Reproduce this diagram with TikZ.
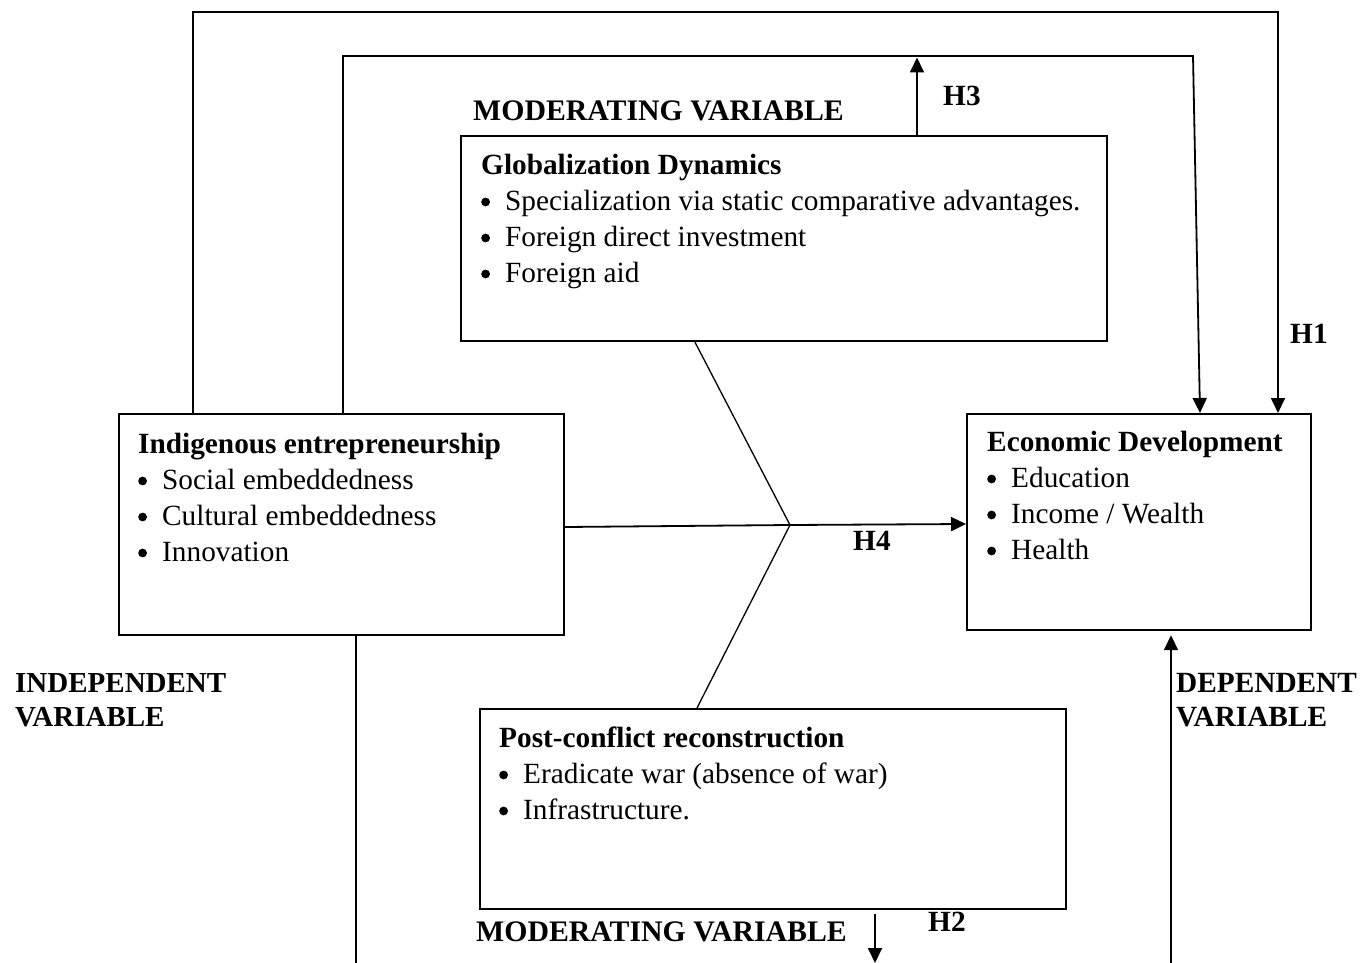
\documentclass[tikz,border=0pt]{standalone}
\usepackage{fontspec}
\setmainfont{Liberation Serif}
\usetikzlibrary{arrows.meta}
% round list marker followed by the item text
\newcommand\bulletitem[1]{\makebox[24pt][l]{\raisebox{3.6pt}{\tikz\fill (0,0) circle (4.4pt);}}#1}
\begin{document}
\begin{tikzpicture}[x=1pt,y=-1pt,
  box/.style={draw, line width=2.2pt, inner sep=0pt, anchor=north west},
  txt/.style={anchor=base west, inner sep=0pt, font=\fontsize{29.3}{36}\selectfont},
  hd/.style={anchor=base west, inner sep=0pt, font=\fontsize{29.3}{36}\selectfont\bfseries},
  wide/.style={hd, font=\fontsize{29.8}{36}\selectfont\bfseries},
  link/.style={line width=1.8pt},
  slim/.style={line width=1.3pt},
  tip/.style={-{Triangle[length=15pt,width=14pt]}},
]
\useasboundingbox (0,0) rectangle (1370,963);

% boxes
\node[box, minimum width=646pt, minimum height=205pt] (glob) at (460,135) {};
\node[box, minimum width=445pt, minimum height=221pt] (ind) at (118,413) {};
\node[box, minimum width=344pt, minimum height=216pt] (eco) at (966,413) {};
\node[box, minimum width=586pt, minimum height=200pt] (post) at (479,708) {};

% globalization dynamics
\node[hd]  (globT)  at (481,174) {Globalization Dynamics};
\node[txt] (globA)  at (481,210) {\bulletitem{Specialization via static comparative advantages.}};
\node[txt] (globB)  at (481,246) {\bulletitem{Foreign direct investment}};
\node[txt] (globC)  at (481,282) {\bulletitem{Foreign aid}};

% indigenous entrepreneurship
\node[hd]  (indT) at (138,453) {Indigenous entrepreneurship};
\node[txt] (indA) at (138,489) {\bulletitem{Social embeddedness}};
\node[txt] (indB) at (138,525) {\bulletitem{Cultural embeddedness}};
\node[txt] (indC) at (138,561) {\bulletitem{Innovation}};

% economic development
\node[hd]  (ecoT) at (987,451) {Economic Development};
\node[txt] (ecoA) at (987,487) {\bulletitem{Education}};
\node[txt] (ecoB) at (987,523) {\bulletitem{Income / Wealth}};
\node[txt] (ecoC) at (987,559) {\bulletitem{Health}};

% post-conflict reconstruction
\node[hd]  (postT) at (499,747) {Post-conflict reconstruction};
\node[txt] (postA) at (499,783) {\bulletitem{Eradicate war (absence of war)}};
\node[txt] (postB) at (499,819) {\bulletitem{Infrastructure.}};

% labels
\node[wide] (modTop) at (473,121) {MODERATING VARIABLE};
\node[wide] (modBot) at (476,941) {MODERATING VARIABLE};
\node[hd, font=\fontsize{29}{36}\selectfont\bfseries] (indepA) at (15,692) {INDEPENDENT};
\node[hd, font=\fontsize{29}{36}\selectfont\bfseries] (indepB) at (15,726) {VARIABLE};
\node[hd] (depA) at (1176,692) {DEPENDENT};
\node[hd] (depB) at (1176,726) {VARIABLE};
\node[hd] (hOne) at (1290,343) {H1};
\node[hd] (hTwo) at (928,931) {H2};
\node[hd] (hThree) at (943,106) {H3};
\node[hd] (hFour) at (853,550) {H4};

% H1: outer loop
\coordinate (o1) at (193,12);
\coordinate (o2) at (1278,12);
\draw[link,tip] (o1 |- ind.north) -- (o1) -- (o2) -- (o2 |- eco.north);

% inner loop
\coordinate (i1) at (343,56);
\coordinate (i2) at (1193,56);
\coordinate (i3) at (1200,0);
\draw[link,tip] (i1 |- ind.north) -- (i1) -- (i2) -- (i3 |- eco.north);

% H3 arrow from globalization box
\coordinate (g3) at (917,0);
\draw[link,tip,shorten >=1.5pt] (g3 |- glob.north) -- (g3 |- i1);

% H4: direct path with moderating branches
\coordinate (hub) at (790,525);
\coordinate (hl) at (0,527);
\coordinate (hr) at (0,524);
\coordinate (gf) at (695,0);
\coordinate (pf) at (697,0);
\draw[slim] (gf |- glob.south) -- (hub) -- (pf |- post.north);
\draw[link,tip] (hl -| ind.east) -- (hub) -- (hr -| eco.west);

% bottom links
\coordinate (b1) at (356,970);
\draw[link] (b1 |- ind.south) -- (b1);
\coordinate (b2) at (1171,970);
\draw[link,tip,shorten >=4pt] (b2) -- (b2 |- eco.south);
\coordinate (b3) at (875,963);
\coordinate (b3s) at (875,914);
\draw[link,tip] (b3s) -- (b3);
\end{tikzpicture}
\end{document}
